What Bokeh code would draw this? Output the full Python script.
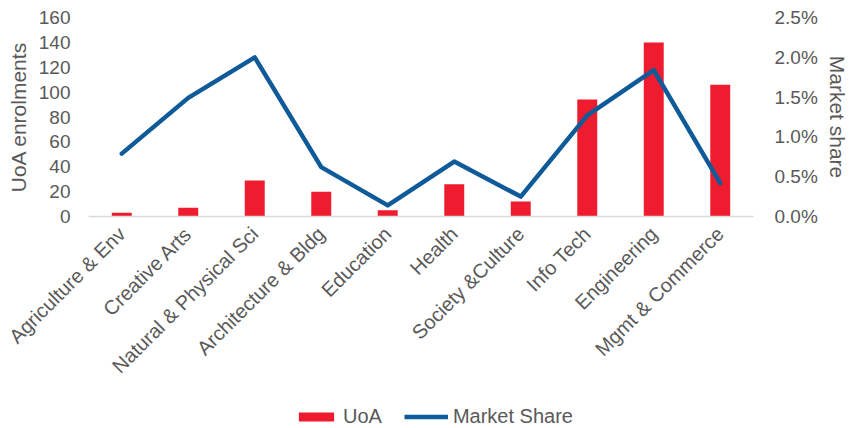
import math
from bokeh.plotting import figure
from bokeh.layouts import column
from bokeh.models import (ColumnDataSource, Range1d, LinearAxis, FixedTicker,
                          NumeralTickFormatter, Legend, LegendItem, FactorRange)
from bokeh.embed import file_html
from bokeh.resources import INLINE

categories = ["Agriculture & Env", "Creative Arts", "Natural & Physical Sci",
              "Architecture & Bldg", "Education", "Health", "Society &Culture",
              "Info Tech", "Engineering", "Mgmt & Commerce"]
uoa = [3, 7, 29, 20, 5, 26, 12, 94, 140, 106]
market_share = [0.0079, 0.0149, 0.0200, 0.0062, 0.0014, 0.0069, 0.0025, 0.0127, 0.0184, 0.0042]
left_ticks = [0, 20, 40, 60, 80, 100, 120, 140, 160]
right_ticks = [0.0, 0.005, 0.010, 0.015, 0.020, 0.025]
series_names = ["UoA", "Market Share"]

FONT = "Liberation Sans"
GREY = "#595959"
RED = "#EE1C2E"
BLUE = "#0F5B99"

src = ColumnDataSource(dict(cat=categories, uoa=uoa, share=market_share))
xr = FactorRange(*categories)

p = figure(width=851, height=400, x_range=xr,
           y_range=Range1d(0, 160), output_backend="svg", toolbar_location=None,
           min_border_left=88, min_border_right=96, min_border_top=17,
           min_border_bottom=184, outline_line_color=None)
p.extra_y_ranges = {"share": Range1d(0, 0.025)}

p.vbar(x="cat", top="uoa", width=0.3, source=src, fill_color=RED, line_color=None)
p.line(x="cat", y="share", source=src, y_range_name="share",
       line_color=BLUE, line_width=4.5, line_join="round", line_cap="round")

p.xgrid.grid_line_color = None
p.ygrid.grid_line_color = None

def style_axis(ax, label_size):
    ax.axis_line_color = None
    ax.major_tick_line_color = None
    ax.minor_tick_line_color = None
    ax.major_tick_out = 0
    ax.minor_tick_out = 0
    ax.major_label_text_font = FONT
    ax.major_label_text_font_size = label_size
    ax.major_label_text_color = GREY
    ax.axis_label_text_font = FONT
    ax.axis_label_text_font_size = "21px"
    ax.axis_label_text_font_style = "normal"
    ax.axis_label_text_color = GREY

# left axis
la = p.yaxis[0]
style_axis(la, "19px")
la.ticker = FixedTicker(ticks=left_ticks)
la.axis_label = "UoA enrolments"
la.major_label_standoff = 18
la.axis_label_standoff = 6

# right axis
ra = LinearAxis(y_range_name="share", ticker=FixedTicker(ticks=right_ticks),
                formatter=NumeralTickFormatter(format="0.0%"),
                axis_label="Market share")
style_axis(ra, "19px")
ra.major_label_standoff = 21
ra.axis_label_standoff = 5
p.add_layout(ra, "right")

# bottom axis
xa = p.xaxis[0]
style_axis(xa, "20px")
xa.axis_line_color = "#D9D9D9"
xa.axis_line_width = 1.5
xa.major_label_orientation = math.pi / 4
xa.major_label_standoff = 14

# legend strip below the chart (its marks lie outside its visible range)
lg = figure(width=851, height=28, x_range=xr, y_range=Range1d(1000, 1001),
            output_backend="svg", toolbar_location=None, outline_line_color=None,
            x_axis_location=None, y_axis_location=None,
            min_border_left=88, min_border_right=96, min_border_top=0,
            min_border_bottom=0)
lg.xgrid.grid_line_color = None
lg.ygrid.grid_line_color = None
leg_bar = lg.vbar(x="cat", top="uoa", width=0.3, source=src, fill_color=RED,
                  line_color=None)
leg_line = lg.line(x="cat", y="share", source=src, line_color=BLUE, line_width=4.5)

legend = Legend(items=[LegendItem(label=series_names[0], renderers=[leg_bar]),
                       LegendItem(label=series_names[1], renderers=[leg_line])],
                orientation="horizontal", location=(206, 0),
                glyph_width=44, glyph_height=11, label_standoff=5, spacing=22,
                padding=0, margin=0, border_line_color=None,
                background_fill_alpha=0, label_text_font=FONT,
                label_text_font_size="20px", label_text_color=GREY)
lg.add_layout(legend, "center")

layout = column(p, lg, spacing=0)
open("out.html", "w").write(file_html(layout, INLINE))
